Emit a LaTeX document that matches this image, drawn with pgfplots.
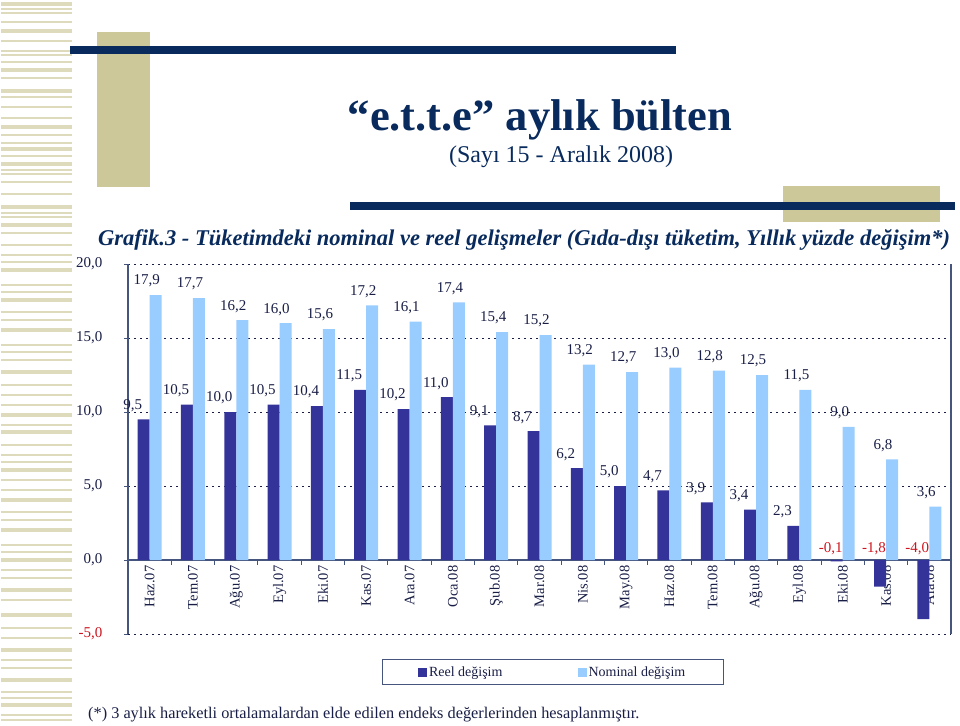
\documentclass[border=0pt]{standalone}
\usepackage{fontspec}
\setmainfont{Liberation Serif}
\usepackage{pgfplots}
\pgfplotsset{compat=1.18}
\definecolor{reel}{RGB}{51,51,153}
\definecolor{nominal}{RGB}{153,204,255}
\definecolor{axiscol}{RGB}{70,85,125}
\definecolor{txt}{RGB}{25,30,70}
\definecolor{navy}{RGB}{8,42,92}
\definecolor{beige}{RGB}{204,200,153}
\definecolor{stripe}{RGB}{222,219,188}
\definecolor{negred}{RGB}{205,20,30}
\begin{document}
\begin{tikzpicture}
\useasboundingbox (0pt,0pt) rectangle (960pt,-725pt);
% decorative stripes
\foreach \y in {4,31,70,91,127,149,164,207,225,270,300,330,372,415,432,470,500,530,560,590,615,650,680,705}{
  \fill[stripe] (1pt,{-(\y+2)*1pt}) rectangle (72pt,{-(\y-2)*1pt});}
\foreach \y in {9,13,22,41,51,55,62,78,97,107,118,135,143,156,170,174,182,194,213,217,233,245,255,262,285,292,312,320,345,352,360,385,395,405,425,445,455,462,480,490,512,520,545,552,570,578,600,628,638,660,668,692,698,715,720}{
  \fill[stripe] (1pt,{-(\y+0.7)*1pt}) rectangle (72pt,{-(\y-0.7)*1pt});}
\fill[beige] (97pt,-32pt) rectangle (150pt,-187pt);
\fill[navy] (70pt,-46pt) rectangle (676pt,-54pt);
\fill[beige] (783pt,-186pt) rectangle (940pt,-222pt);
\fill[navy] (350pt,-202pt) rectangle (955pt,-210pt);
% titles
\node[anchor=base, text=navy, font=\fontsize{44.5}{50}\selectfont\bfseries, inner sep=0pt] at (540pt,-130pt) {“e.t.t.e” aylık bülten};
\node[anchor=base, text=navy, font=\fontsize{24}{28}\selectfont, inner sep=0pt] at (561pt,-162pt) {(Sayı 15 - Aralık 2008)};
\node[anchor=base west, text=navy, font=\fontsize{22.5}{26}\selectfont\bfseries\itshape, inner sep=0pt] at (98pt,-245pt) {Grafik.3 - Tüketimdeki nominal ve reel gelişmeler (Gıda-dışı tüketim, Yıllık yüzde değişim*)};
\node[anchor=base west, text=txt, font=\fontsize{16.3}{19}\selectfont, inner sep=0pt] at (88pt,-718pt) {(*) 3 aylık hareketli ortalamalardan elde edilen endeks değerlerinden hesaplanmıştır.};
\begin{axis}[
  at={(128pt,-634pt)}, anchor=south west, scale only axis,
  width=823pt, height=370pt,
  xmin=-0.5, xmax=18.5, ymin=-5, ymax=20,
  axis x line=middle, axis y line=left,
  axis line style={-, draw=axiscol, line width=1.2pt},
  hide obscured x ticks=false, hide obscured y ticks=false,
  xtick={0,...,18},
  xticklabels={Haz.07,Tem.07,Ağu.07,Eyl.07,Eki.07,Kas.07,Ara.07,Oca.08,Şub.08,Mar.08,Nis.08,May.08,Haz.08,Tem.08,Ağu.08,Eyl.08,Eki.08,Kas.08,Ara.08},
  xtick style={draw=none},
  xticklabel style={rotate=90, anchor=east, font=\fontsize{14.5}{16}\selectfont, text=txt},
  ytick={-5,0,5,10,15,20},
  yticklabels={{\color{negred}-5,0},{0,0},{5,0},{10,0},{15,0},{20,0}},
  ytick align=outside, major tick length=4pt,
  ytick style={draw=axiscol, line width=1pt},
  yticklabel style={font=\fontsize{15}{16}\selectfont, text=txt, xshift=-18pt},
  ymajorgrids, grid style={draw=txt, line width=1pt, dash pattern=on 2pt off 4pt},
  clip=false,
  legend columns=2,
  legend style={at={(0.516,-0.103)}, anchor=center, draw=axiscol, line width=1pt,
    font=\fontsize{14}{16}\selectfont, text=txt, inner xsep=36pt, inner ysep=5pt,
    /tikz/every even column/.append style={column sep=73pt}},
  /pgf/number format/.cd, use comma, fixed, fixed zerofill, precision=1, assume math mode=true,
]
\addlegendimage{legend image code/.code={\fill[reel] (0pt,-4pt) rectangle (8pt,4pt);}}
\addlegendimage{legend image code/.code={\fill[nominal] (0pt,-4pt) rectangle (8pt,4pt);}}
\addplot[ybar, bar width=12pt, bar shift=-6pt, fill=reel, draw=none, forget plot,
  nodes near coords,
  every node near coord/.style={font=\fontsize{15}{16}\selectfont, text=txt, anchor=center, xshift=-17pt, yshift=14pt}]
  coordinates {(0,9.5)(1,10.5)(2,10.0)(3,10.5)(4,10.4)(5,11.5)(6,10.2)(7,11.0)(8,9.1)(9,8.7)(10,6.2)(11,5.0)(12,4.7)(13,3.9)(14,3.4)(15,2.3)};
\addplot[ybar, bar width=12pt, bar shift=-6pt, fill=reel, draw=none, forget plot]
  coordinates {(16,-0.1)(17,-1.8)(18,-4.0)};
\addplot[draw=none, mark=none, forget plot, nodes near coords, point meta=explicit symbolic,
  every node near coord/.style={font=\fontsize{15}{16}\selectfont, text=negred, anchor=center, xshift=-12pt}]
  coordinates {(16,0.8)[-0,1] (17,0.8)[-1,8] (18,0.8)[-4,0]};
\addplot[ybar, bar width=12pt, bar shift=6pt, fill=nominal, draw=none, forget plot,
  nodes near coords,
  every node near coord/.style={font=\fontsize{15}{16}\selectfont, text=txt, anchor=center, xshift=-3pt, yshift=14pt}]
  coordinates {(0,17.9)(1,17.7)(2,16.2)(3,16.0)(4,15.6)(5,17.2)(6,16.1)(7,17.4)(8,15.4)(9,15.2)(10,13.2)(11,12.7)(12,13.0)(13,12.8)(14,12.5)(15,11.5)(16,9.0)(17,6.8)(18,3.6)};
\draw[axiscol, line width=1.2pt] (rel axis cs:1,0) -- (rel axis cs:1,1);
\pgfplotsinvokeforeach{0.5,1.5,...,17.5}{\draw[axiscol, line width=1pt] (axis cs:#1,0) -- ++(0pt,-5pt);}
\legend{Reel değişim, Nominal değişim}
\end{axis}
\end{tikzpicture}
\end{document}
